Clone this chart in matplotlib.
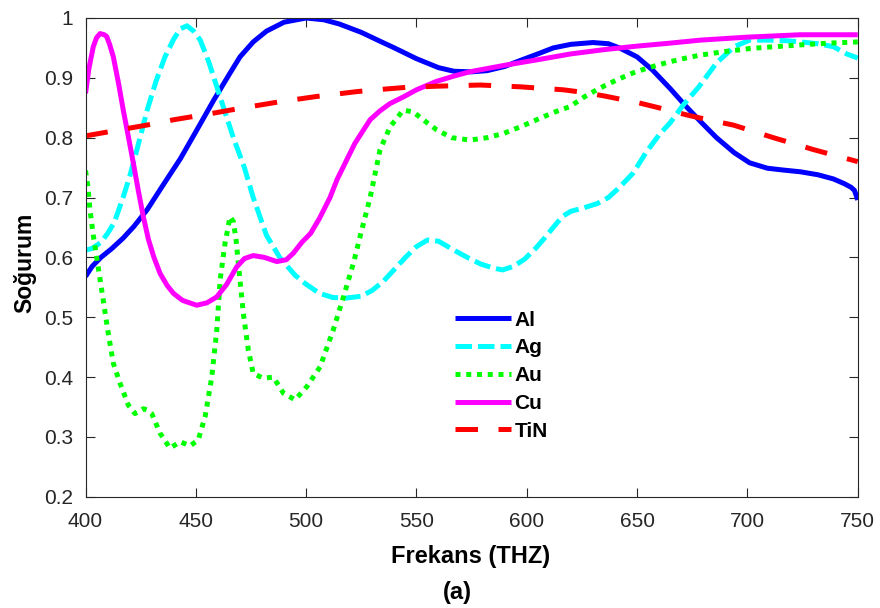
import matplotlib
matplotlib.use("Agg")
import matplotlib.pyplot as plt

plt.rcParams['font.family'] = ['Liberation Sans', 'DejaVu Sans']

# ---- data ----
al_x = [400, 403, 407, 412, 417, 422, 428, 435, 443, 450, 458, 465, 470, 476, 482, 490, 500, 508, 515, 525,
        533, 540, 550, 560, 567, 575, 582, 590, 597, 605, 612, 620, 630, 637, 642, 650, 657, 665, 672, 679,
        686, 694, 701, 709, 716, 724, 732, 739, 744, 747, 748.5, 750]
al_y = [.568, .585, .600, .615, .632, .652, .680, .720, .765, .810, .862, .905, .935, .960, .978, .993, 1.0, .997, .990, .976,
        .962, .950, .932, .917, .911, .910, .912, .919, .929, .940, .950, .956, .959, .957, .950, .935, .913, .882, .853, .826,
        .800, .775, .758, .749, .746, .743, .738, .731, .723, .717, .712, .696]

ag_x = [400, 403, 407, 410, 413, 417, 420, 424, 428, 432, 436, 440, 443, 446, 449, 452, 456, 461, 467, 472,
        476, 482, 488, 495, 500, 506, 512, 518, 525, 530, 535, 540, 545, 550, 555, 560, 567, 573, 579, 585,
        589, 594, 599, 604, 608, 612, 616, 620, 626, 632, 637, 642, 648, 654, 660, 665, 671, 678, 686, 694,
        701, 710, 718, 724, 732, 739, 745, 750]
ag_y = [.612, .615, .625, .640, .658, .700, .735, .790, .847, .895, .935, .965, .982, .987, .978, .963, .925, .868, .800, .750,
        .700, .637, .600, .570, .555, .540, .533, .532, .535, .545, .560, .580, .600, .618, .629, .627, .612, .600, .589, .582,
        .579, .585, .597, .615, .632, .650, .668, .677, .683, .690, .700, .717, .740, .775, .805, .825, .855, .885, .925, .952,
        .963, .963, .962, .960, .957, .952, .940, .933]

au_x = [400, 401, 402, 403.5, 405.8, 408, 410.3, 412.6, 415.6, 419.4, 422.4, 426.2, 428, 430, 433.8, 438.3, 442.8, 447.4,
        451.1, 454.2, 457.2, 459.5, 461, 463.2, 465.5, 467, 468.2, 470, 471.5, 473.8, 476, 480.6, 485.1, 489.7, 495,
        500.3, 506.3, 512.3, 516.9, 521.4, 525.2, 529, 533.5, 538, 544, 548.6, 553, 559.2, 566, 574.3, 582, 589.4,
        597, 604.5, 612, 619.6, 626, 631.7, 637, 642.3, 648, 654.4, 660, 665, 672, 678.6, 690, 701.2, 712, 723.9,
        737, 750]
au_y = [.745, .720, .680, .637, .582, .529, .473, .423, .390, .353, .339, .347, .345, .339, .306, .281, .292, .285,
        .295, .334, .400, .479, .562, .623, .668, .660, .630, .562, .507, .445, .406, .398, .400, .373, .362,
        .384, .417, .479, .534, .590, .646, .700, .780, .818, .846, .843, .830, .813, .800, .796, .800, .807,
        .818, .830, .842, .852, .868, .880, .890, .899, .908, .916, .922, .927, .933, .938, .944, .949, .952, .955,
        .958, .960]

cu_x = [400, 401.5, 403.5, 405, 406.6, 408.5, 409.6, 411, 412.6, 415, 417.1, 419.5, 421.7, 424, 426.2, 428.5, 431,
        433.8, 437, 439.8, 444, 450.4, 455, 459.5, 464, 468.5, 472, 476, 481, 486.7, 491, 494.2, 498, 502, 506,
        510.8, 514, 518.4, 522, 526, 529, 533.5, 538, 544, 550, 559, 567, 574, 590, 604.5, 620, 634.7, 650, 665,
        678.6, 700, 723.9, 750]
cu_y = [.874, .915, .952, .967, .974, .972, .969, .955, .935, .890, .846, .800, .757, .710, .668, .630, .600,
        .573, .553, .540, .528, .520, .524, .534, .555, .584, .598, .603, .600, .593, .596, .607, .625, .640, .665,
        .700, .730, .763, .790, .813, .830, .845, .857, .868, .880, .894, .903, .910, .921, .930, .940, .947, .953, .958,
        .963, .968, .972, .972]

tin_x = [400, 427.7, 440, 458, 470, 488, 505, 523, 535, 545, 559, 578.8, 597, 616.6, 625, 634.7, 651, 662, 672.5,
         682, 693.7, 711.8, 730, 740, 750]
tin_y = [.803, .821, .830, .841, .849, .860, .869, .877, .881, .884, .886, .888, .885, .880, .876, .870, .858, .848, .838,
         .830, .821, .800, .780, .770, .760]

labels = ['Al', 'Ag', 'Au', 'Cu', 'TiN']
x_ticks = [400, 450, 500, 550, 600, 650, 700, 750]
y_ticks = [0.2, 0.3, 0.4, 0.5, 0.6, 0.7, 0.8, 0.9, 1.0]
y_ticklabels = ['0.2', '0.3', '0.4', '0.5', '0.6', '0.7', '0.8', '0.9', '1']

# ---- figure ----
fig = plt.figure(figsize=(8.8, 6.08), dpi=100)
ax = fig.add_axes([0.0972, 0.183, 0.8775, 0.7874])

lw = 3.6
ax.plot(al_x, al_y, color='#0000FF', lw=lw, solid_capstyle='butt', label=labels[0])
ax.plot(ag_x, ag_y, color='#00FFFF', lw=lw, dashes=(3.3, 1.2), dash_capstyle='butt', label=labels[1])
ax.plot(au_x, au_y, color='#00FF00', lw=lw, dashes=(1.0, 1.15), dash_capstyle='butt', label=labels[2])
ax.plot(cu_x, cu_y, color='#FF00FF', lw=lw, solid_capstyle='butt', label=labels[3])
ax.plot(tin_x, tin_y, color='#FF0000', lw=lw, dashes=(4.5, 4.1), dash_capstyle='butt', label=labels[4])

ax.set_xlim(400, 750)
ax.set_ylim(0.2, 1.0)
ax.set_xticks(x_ticks)
ax.set_xticklabels([str(v) for v in x_ticks])
ax.set_yticks(y_ticks)
ax.set_yticklabels(y_ticklabels)

ax.tick_params(direction='in', length=6.5, width=0.8, top=True, right=True,
               labelsize=15, colors='#262626')
ax.tick_params(axis='x', pad=11)
ax.tick_params(axis='y', pad=9)
for s in ax.spines.values():
    s.set_color('#262626')
    s.set_linewidth(0.8)

leg = ax.legend(loc='upper left', bbox_to_anchor=(0.4785, 0.3885), frameon=False,
                handlelength=2.7, handletextpad=0.15, labelspacing=0.42,
                borderpad=0, borderaxespad=0,
                prop={'weight': 'bold', 'size': 15})

fig.text(0.535, 0.074, 'Frekans (THZ)', ha='center', va='baseline',
         fontsize=17, fontweight='bold')
fig.text(0.520, 0.015, '(a)', ha='center', va='baseline',
         fontsize=17, fontweight='bold')
fig.text(0.028, 0.567, 'Soğurum', ha='center', va='center', rotation=90,
         fontsize=16.5, fontweight='bold')

fig.savefig('out.png', dpi=100)
